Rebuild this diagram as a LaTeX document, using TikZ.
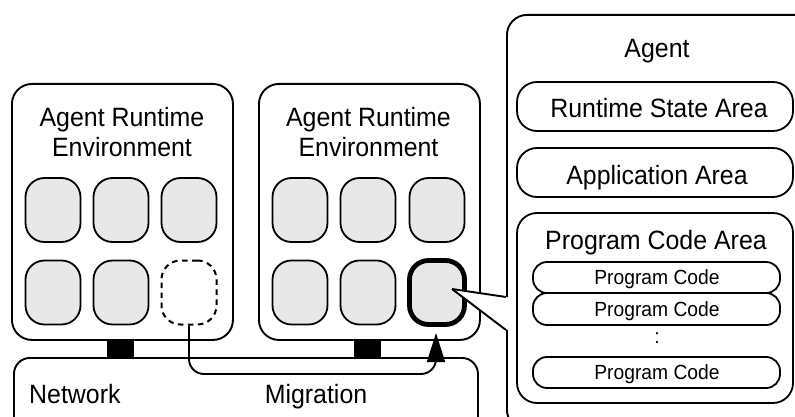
\documentclass[tikz,border=0pt]{standalone}
\usepackage{fontspec}
\setmainfont{Liberation Sans}[FakeStretch=0.94]
\usetikzlibrary{arrows.meta}
\begin{document}
\begin{tikzpicture}[x=1pt,y=-1pt,line join=round]
\tikzset{
  frame/.style={draw,line width=1.9pt,fill=white,rounded corners=20pt,inner sep=0pt,anchor=north west},
  tile/.style={draw,line width=1.8pt,fill=gray!18,rounded corners=19pt,
    minimum width=55pt,minimum height=64pt,inner sep=0pt},
  hot/.style={tile,line width=4.8pt},
  ghost/.style={tile,fill=none,line width=2pt,dash pattern=on 5.5pt off 4.5pt},
  area/.style={draw,line width=1.8pt,rounded corners=20pt,minimum width=276pt,inner sep=0pt},
  code/.style={draw,line width=1.8pt,rounded corners=14pt,minimum width=247pt,inner sep=0pt},
  link/.style={fill=black,minimum width=27pt,minimum height=18pt,inner sep=0pt,anchor=north},
  big/.style={font=\fontsize{26.5}{30}\selectfont,anchor=base,inner sep=0pt},
  small/.style={font=\fontsize{20.5}{22}\selectfont,anchor=base,inner sep=0pt},
}
\clip (0,0) rectangle (795,417);
\fill[white] (0,0) rectangle (795,417);

% network and the two runtime environments
\node[frame,rounded corners=16pt,minimum width=464pt,minimum height=75pt] (net) at (13,357) {};
\node[frame,minimum width=221pt,minimum height=256pt] (are1) at (11,83) {};
\node[frame,minimum width=221pt,minimum height=256pt] (are2) at (258,83) {};
\node[link] (c1) at (120.5,339) {};
\node[link] (c2) at (367,339) {};

\node[big] (l1a) at (122,127) {Agent Runtime};
\node[big] (l1b) at (122,157) {Environment};
\node[big] (l2a) at (368.5,127) {Agent Runtime};
\node[big] (l2b) at (368.5,157) {Environment};

% agents hosted in the first environment
\node[tile] (a11) at (53,210) {};
\node[tile] (a12) at (121,210) {};
\node[tile] (a13) at (189,210) {};
\node[tile] (a21) at (53,292.5) {};
\node[tile] (a22) at (121,292.5) {};
\node[ghost] (a23) at (189,292.5) {};

% agents hosted in the second environment
\node[tile] (b11) at (300,210) {};
\node[tile] (b12) at (368,210) {};
\node[tile] (b13) at (437,210) {};
\node[tile] (b21) at (300,292.5) {};
\node[tile] (b22) at (368,292.5) {};
\node[hot] (b23) at (437,292.5) {};

\node[big] (nettxt) at (29,403) [anchor=base west] {Network};
\node[big] (migtxt) at (316,403) {Migration};

% migration path
\coordinate (migend) at (436,333);
\draw[line width=1.9pt,rounded corners=15pt,-{Triangle[length=29pt,width=18pt]}]
  (a23.south) -- (189,374) -| (migend);

% agent structure
\node[frame,minimum width=320pt,minimum height=415pt] (agent) at (506,14) {};
\node[big] (agtxt) at (657,58) {Agent};
\node[area,minimum height=49pt] (rsa) at (655,106.5) {};
\node[big] at (659,118) {Runtime State Area};
\node[area,minimum height=49pt] (app) at (655,172.5) {};
\node[big] at (657,184) {Application Area};
\node[area,minimum height=190pt] (pca) at (655,308) {};
\node[big] at (656,249) {Program Code Area};
\node[code,minimum height=31pt] (pc1) at (656.5,277.5) {};
\node[small] at (657,284) {Program Code};
\node[code,minimum height=32pt] (pc2) at (656.5,309) {};
\node[small] at (657,316) {Program Code};
\node[small] (dots) at (657,343) {:};
\node[code,minimum height=31pt] (pc3) at (656.5,372.5) {};
\node[small] at (657,379) {Program Code};

% callout from the migrated agent to its structure
\coordinate (tip) at (452,289);
\coordinate (ctop) at (506,297);
\coordinate (cbot) at (506,330);
\fill[white] (tip) -- (508,297.3) -- (508,330.3) -- cycle;
\draw[line width=1.9pt] (tip) -- (ctop);
\draw[line width=1.9pt] (tip) -- (cbot);
\end{tikzpicture}
\end{document}
